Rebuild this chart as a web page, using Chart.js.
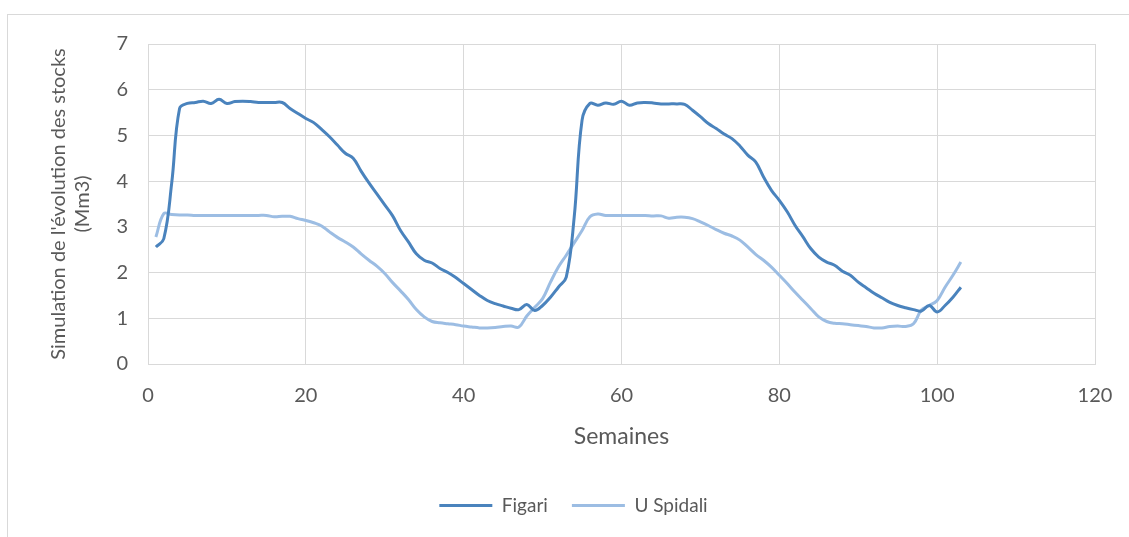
<!DOCTYPE html>
<html>
<head>
<meta charset="utf-8">
<script src="https://cdn.jsdelivr.net/npm/chart.js@4"></script>
<style>
  html, body { margin: 0; padding: 0; background: #fff; overflow: hidden; }
  #frame { position: absolute; left: 7px; top: 14px; width: 1300px; height: 700px; border: 1px solid #d9d9d9; }
  #wrap { position: absolute; left: 0; top: 0; width: 1129px; height: 537px; }
</style>
</head>
<body>
<div id="frame"></div>
<div id="wrap"><canvas id="stockChart" width="1129" height="537"></canvas></div>
<script>
// weeks 1..103
const weeks = Array.from({ length: 103 }, (_, i) => i + 1);

const figari = [
  2.56, 2.74, 3.95, 5.59, 5.70, 5.72, 5.75, 5.70, 5.79, 5.70,
  5.74, 5.75, 5.74, 5.72, 5.72, 5.72, 5.72, 5.59, 5.48, 5.37,
  5.28, 5.13, 4.97, 4.79, 4.61, 4.50, 4.22, 3.96, 3.72, 3.48,
  3.24, 2.92, 2.67, 2.41, 2.27, 2.21, 2.09, 2.00, 1.89, 1.76,
  1.63, 1.50, 1.39, 1.32, 1.27, 1.22, 1.19, 1.30, 1.17, 1.28,
  1.46, 1.68, 1.90, 3.20, 5.33, 5.70, 5.66, 5.71, 5.68, 5.75,
  5.66, 5.71, 5.72, 5.71, 5.69, 5.69, 5.69, 5.68, 5.55, 5.41,
  5.26, 5.15, 5.03, 4.93, 4.77, 4.57, 4.42, 4.09, 3.80, 3.58,
  3.33, 3.03, 2.78, 2.52, 2.34, 2.23, 2.16, 2.03, 1.94, 1.79,
  1.67, 1.55, 1.45, 1.35, 1.28, 1.23, 1.19, 1.16, 1.28, 1.14,
  1.28, 1.46, 1.68
];

const uSpidali = [
  2.78, 3.29, 3.27, 3.26, 3.26, 3.25, 3.25, 3.25, 3.25, 3.25,
  3.25, 3.25, 3.25, 3.25, 3.25, 3.22, 3.23, 3.23, 3.18, 3.14,
  3.09, 3.02, 2.89, 2.77, 2.67, 2.56, 2.41, 2.27, 2.14, 1.98,
  1.78, 1.60, 1.41, 1.19, 1.03, 0.93, 0.90, 0.88, 0.86, 0.83,
  0.81, 0.79, 0.79, 0.80, 0.82, 0.83, 0.81, 1.05, 1.24, 1.43,
  1.79, 2.12, 2.38, 2.65, 2.92, 3.22, 3.28, 3.25, 3.25, 3.25,
  3.25, 3.25, 3.25, 3.24, 3.24, 3.19, 3.21, 3.21, 3.18, 3.11,
  3.03, 2.94, 2.86, 2.80, 2.71, 2.56, 2.40, 2.27, 2.12, 1.94,
  1.76, 1.57, 1.39, 1.21, 1.03, 0.93, 0.89, 0.88, 0.86, 0.84,
  0.82, 0.79, 0.79, 0.82, 0.83, 0.82, 0.88, 1.18, 1.28, 1.39,
  1.68, 1.94, 2.23
];

const xTicks = [0, 20, 40, 60, 80, 100, 120];
const yTicks = [0, 1, 2, 3, 4, 5, 6, 7];

const FONT = "Lato, 'Open Sans', sans-serif";
const TEXT = "#595959";
const GRID = "#d9d9d9";

const toPoints = (values) => values.map((v, i) => ({ x: weeks[i], y: v }));

// nudge the legend a bit to the right, like the original
const legendShift = {
  id: "legendShift",
  afterLayout(chart) {
    chart.legend.left += 26;
    chart.legend.right += 26;
  }
};

const ctx = document.getElementById("stockChart").getContext("2d");
new Chart(ctx, {
  type: "line",
  data: {
    datasets: [
      {
        label: "Figari",
        data: toPoints(figari),
        borderColor: "#4a83bd",
        backgroundColor: "#4a83bd",
        borderWidth: 3,
        pointRadius: 0,
        tension: 0.4
      },
      {
        label: "U Spidali",
        data: toPoints(uSpidali),
        borderColor: "#9cbde3",
        backgroundColor: "#9cbde3",
        borderWidth: 3,
        pointRadius: 0,
        tension: 0.4
      }
    ]
  },
  options: {
    responsive: false,
    animation: false,
    layout: { padding: { top: 44, right: 34, bottom: 12, left: 0 } },
    plugins: {
      tooltip: { enabled: false },
      legend: {
        position: "bottom",
        labels: {
          color: TEXT,
          font: { family: FONT, size: 19 },
          boxWidth: 53,
          boxHeight: 3,
          padding: 24,
          generateLabels: (chart) =>
            Chart.defaults.plugins.legend.labels.generateLabels(chart).map(l => ({ ...l, lineWidth: 0 }))
        }
      }
    },
    scales: {
      x: {
        type: "linear",
        min: xTicks[0],
        max: xTicks[xTicks.length - 1],
        afterBuildTicks: (s) => { s.ticks = xTicks.map(v => ({ value: v })); },
        afterFit: (s) => { s.height = 108; },
        grid: { color: GRID, lineWidth: 1, drawTicks: true, tickLength: 17, tickColor: "rgba(0,0,0,0)" },
        border: { color: GRID },
        ticks: { color: TEXT, font: { family: FONT, size: 20 }, padding: 3 },
        title: {
          display: true,
          text: "Semaines",
          color: TEXT,
          font: { family: FONT, size: 23 },
          padding: { top: 0, bottom: 22 }
        }
      },
      y: {
        min: yTicks[0],
        max: yTicks[yTicks.length - 1],
        afterBuildTicks: (s) => { s.ticks = yTicks.map(v => ({ value: v })); },
        afterFit: (s) => { s.width = 148; },
        grid: { color: GRID, lineWidth: 1, drawTicks: false },
        border: { color: GRID },
        ticks: { color: TEXT, font: { family: FONT, size: 20 }, padding: 20 },
        title: {
          display: true,
          text: ["Simulation de l'évolution des stocks", "(Mm3)"],
          color: TEXT,
          font: { family: FONT, size: 20 },
          padding: { top: 47, bottom: 0 }
        }
      }
    }
  },
  plugins: [legendShift]
});
</script>
</body>
</html>
